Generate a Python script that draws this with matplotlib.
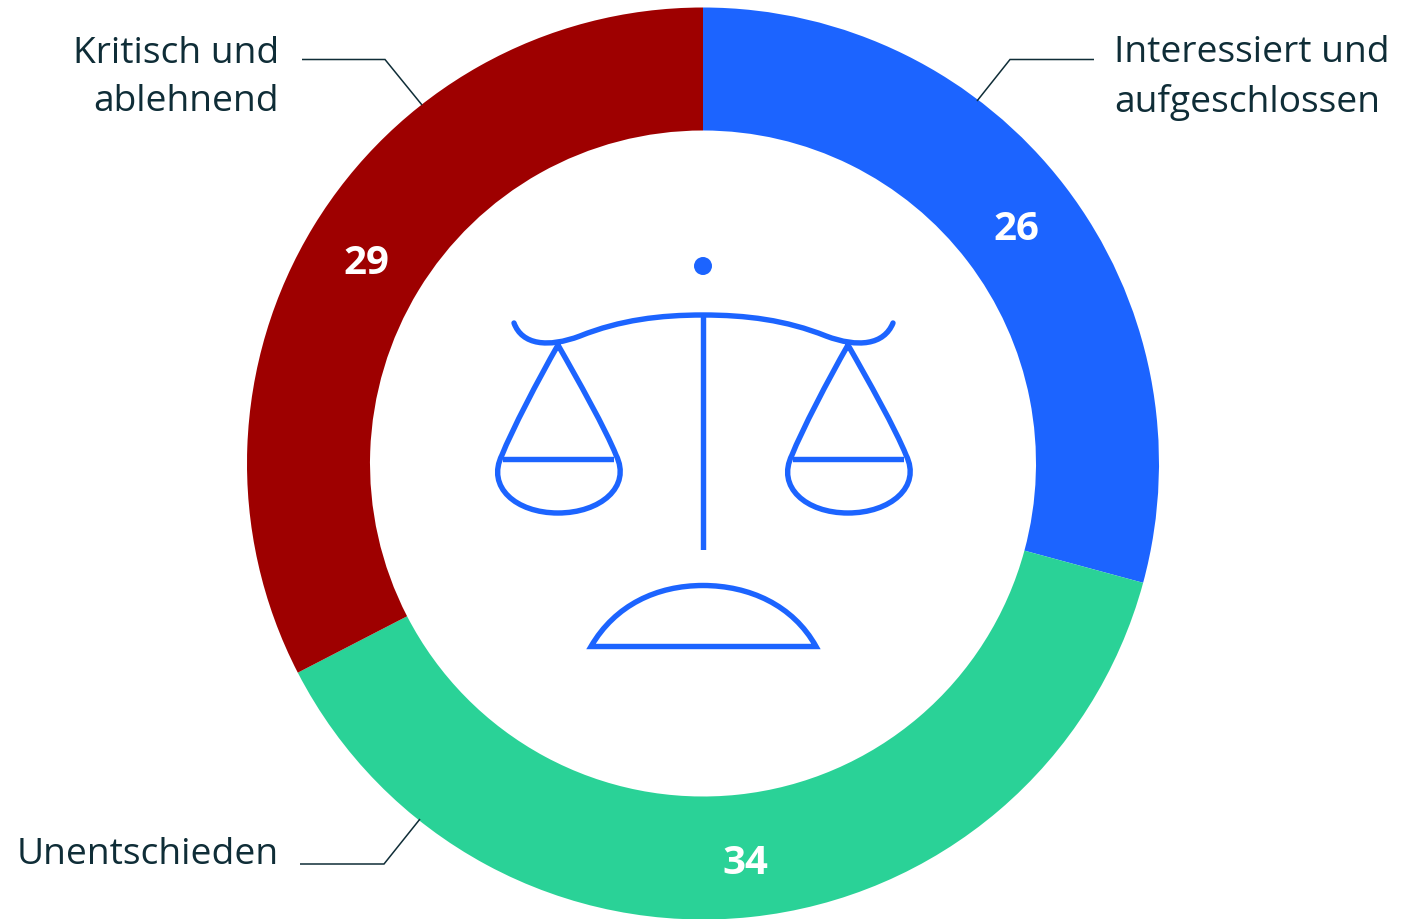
import matplotlib
matplotlib.use("Agg")
import matplotlib.pyplot as plt
from matplotlib.path import Path
from matplotlib.patches import PathPatch, Circle

categories = ["Interessiert und\naufgeschlossen", "Unentschieden", "Kritisch und\nablehnend"]
values = [26, 34, 29]
colors = ["#1C64FF", "#2AD297", "#9E0000"]
value_label_px = [(1016, 229), (745, 863), (366, 263)]

W, H = 1411, 919
plt.rcParams['font.family'] = ['Open Sans', 'DejaVu Sans']
fig = plt.figure(figsize=(W/100, H/100), dpi=100)
ax = fig.add_axes([0, 0, 1, 1])
Y = lambda y: H - y
cx, cy, R, r = 703, 463.5, 456, 333
ax.pie(values, colors=colors, startangle=90, counterclock=False, center=(cx, Y(cy)), radius=R,
       wedgeprops=dict(width=R-r, linewidth=0), frame=True)
ax.set_xlim(0, W); ax.set_ylim(0, H); ax.axis('off')

for v, (x, y) in zip(values, value_label_px):
    ax.text(x, Y(y), str(v), color='white', fontsize=29, fontweight='bold', ha='center', va='center')

tc = '#0F2D37'
fs = 26.7
ax.text(279, Y(78), categories[2], color=tc, fontsize=fs, ha='right', va='center', linespacing=1.43)
ax.text(1114, Y(78), categories[0], color=tc, fontsize=fs, ha='left', va='center', linespacing=1.43)
ax.text(279, Y(855), categories[1], color=tc, fontsize=fs, ha='right', va='center')

def line(pts, c=tc, lw=1.1):
    ax.plot([p[0] for p in pts], [Y(p[1]) for p in pts], color=c, lw=lw, solid_capstyle='butt', solid_joinstyle='miter')
line([(302, 59.5), (385, 59.5), (422, 105)])
line([(1094, 59.5), (1010, 59.5), (977, 101)])
line([(300, 864), (384, 864), (420, 819)])

blue = '#1C64FF'
lw = 3.9
def curve(verts, codes, cap='round', join='round'):
    v = [(x, Y(y)) for x, y in verts]
    ax.add_patch(PathPatch(Path(v, codes), fc='none', ec=blue, lw=lw, capstyle=cap, joinstyle=join, snap=False))
M, L, C, Z = Path.MOVETO, Path.LINETO, Path.CURVE4, Path.CLOSEPOLY
ax.add_patch(Circle((703, Y(266)), 9, fc=blue, ec='none'))
# beam
curve([(514, 323), (522, 345), (548, 348), (580, 336), (620, 320), (660, 315), (703, 315),
       (746, 315), (786, 320), (826, 336), (858, 348), (884, 345), (893, 323)],
      [M, C, C, C, C, C, C, C, C, C, C, C, C])
# post
curve([(703.5, 315), (703.5, 550)], [M, L], cap='butt')
# pans
for dx in (0, 290):
    curve([(558+dx, 345), (538+dx, 380), (512+dx, 430), (502+dx, 455),
           (486+dx, 487), (516+dx, 513), (558+dx, 513),
           (600+dx, 513), (632+dx, 487), (616+dx, 455),
           (606+dx, 430), (578+dx, 380), (558+dx, 345)],
          [M, C, C, C, C, C, C, C, C, C, C, C, C])
    curve([(503+dx, 459.5), (614+dx, 459.5)], [M, L], cap='butt')
# base
curve([(591, 646.5), (615, 605), (657, 585.5), (703, 585.5), (749, 585.5), (793, 605), (816, 646.5), (591, 646.5), (591, 646.5)],
      [M, C, C, C, C, C, C, L, Z], cap='butt', join='miter')
fig.savefig('out.png', dpi=100)
